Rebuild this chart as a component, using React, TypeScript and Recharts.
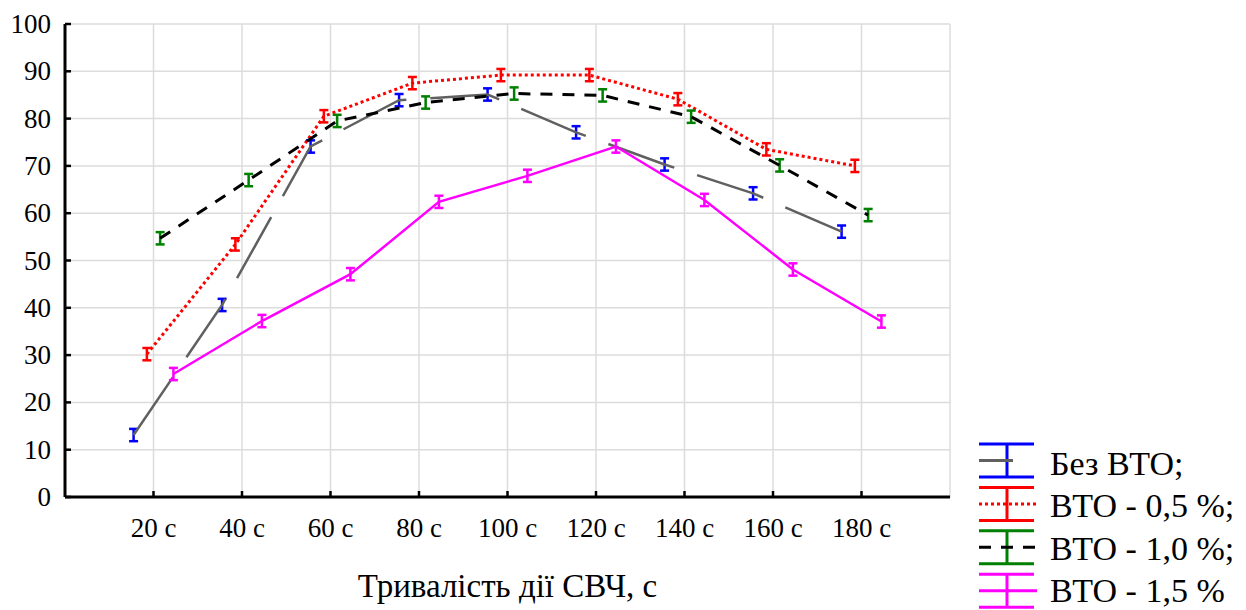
import React from 'react';
import {
  LineChart,
  Line,
  XAxis,
  YAxis,
  CartesianGrid,
  ErrorBar,
  Legend
} from 'recharts';

// Categories and tick labels
const categories = ['20 с', '40 с', '60 с', '80 с', '100 с', '120 с', '140 с', '160 с', '180 с'];
const yTicks = [0, 10, 20, 30, 40, 50, 60, 70, 80, 90, 100];

// Series values
const bezVto = [13.1, 40.6, 74.1, 83.9, 85.1, 77.1, 70.3, 64.2, 56.1];
const vto05 = [30.2, 53.4, 80.5, 87.5, 89.2, 89.2, 84.1, 73.5, 70.0];
const vto10 = [54.7, 67.0, 79.5, 83.4, 85.3, 84.9, 80.4, 70.1, 59.6];
const vto15 = [26.0, 37.2, 47.1, 62.4, 67.9, 74.1, 62.8, 48.1, 37.1];

// Error (± half-width) per point
const errBez = [1.3, 1.3, 1.3, 1.3, 1.3, 1.3, 1.3, 1.3, 1.3];
const err05 = [1.3, 1.3, 1.3, 1.3, 1.3, 1.3, 1.3, 1.3, 1.3];
const err10 = [1.3, 1.3, 1.3, 1.3, 1.3, 1.3, 1.3, 1.3, 1.3];
const err15 = [1.3, 1.3, 1.3, 1.3, 1.3, 1.3, 1.3, 1.3, 1.3];

const legendNames = ['Без ВТО;', 'ВТО - 0,5 %;', 'ВТО - 1,0 %;', 'ВТО - 1,5 %'];

const FONT = '"Liberation Serif", "Times New Roman", serif';
const X_GAP = 21;
const Y_GAP = 14;

// styles per series (same order as legend)
const STYLES = [
  { bar: '#0000ff', line: '#606060', dash: '70 24', legendDash: undefined, width: 2.5, shift: -0.225, short: true },
  { bar: '#ff0000', line: '#ff0000', dash: '3 3', legendDash: '3 3', width: 3, shift: -0.075, short: false },
  { bar: '#008000', line: '#000000', dash: '12 10', legendDash: '12 10', width: 3, shift: 0.075, short: false },
  { bar: '#ff00ff', line: '#ff00ff', dash: undefined, legendDash: undefined, width: 2.5, shift: 0.225, short: false }
];

const toPoints = (vals: number[], errs: number[], shift: number) =>
  vals.map((y, i) => ({ x: i + 1 + shift, y, err: errs[i] }));

const seriesData = [
  toPoints(bezVto, errBez, STYLES[0].shift),
  toPoints(vto05, err05, STYLES[1].shift),
  toPoints(vto10, err10, STYLES[2].shift),
  toPoints(vto15, err15, STYLES[3].shift)
];

const BottomTick = (props: any) => {
  const { x, y, payload } = props;
  return (
    <g>
      <line x1={x} y1={y - X_GAP} x2={x} y2={y - X_GAP - 6} stroke="#000" strokeWidth={2.5} />
      <text x={x} y={y} dy={19} textAnchor="middle" fontSize={27} fontFamily={FONT} fill="#000">
        {categories[payload.value - 1]}
      </text>
    </g>
  );
};

const LeftTick = (props: any) => {
  const { x, y, payload } = props;
  return (
    <g>
      <line x1={x + Y_GAP} y1={y} x2={x + Y_GAP + 6} y2={y} stroke="#000" strokeWidth={2.5} />
      <text x={x} y={y} dy={9} textAnchor="end" fontSize={27} fontFamily={FONT} fill="#000">
        {payload.value}
      </text>
    </g>
  );
};

const TopTick = (props: any) => {
  const { x, y } = props;
  return <line x1={x} y1={y} x2={x} y2={y + 6} stroke="#000" strokeWidth={2.5} />;
};

const RightTick = (props: any) => {
  const { x, y } = props;
  return <line x1={x} y1={y} x2={x - 6} y2={y} stroke="#000" strokeWidth={2.5} />;
};

const LegendBox = () => (
  <svg width={271} height={170}>
    {STYLES.map((s, i) => {
      const top = 4 + i * 43.4;
      return (
        <g key={i}>
          <line x1={4} x2={59} y1={top} y2={top} stroke={s.bar} strokeWidth={3} />
          <line x1={4} x2={59} y1={top + 33} y2={top + 33} stroke={s.bar} strokeWidth={3} />
          <line x1={32} x2={32} y1={top} y2={top + 33} stroke={s.bar} strokeWidth={3} />
          <line
            x1={4}
            x2={s.short ? 38 : 62}
            y1={top + 16.5}
            y2={top + 16.5}
            stroke={s.line}
            strokeWidth={3}
            strokeDasharray={s.legendDash}
          />
          <text x={75} y={35 + i * 42.3} fontSize={34} fontFamily={FONT} fill="#000">
            {legendNames[i]}
          </text>
        </g>
      );
    })}
  </svg>
);

export default function App() {
  return (
    <div style={{ position: 'absolute', left: 0, top: 0, width: 1246, height: 610, background: '#fff', fontFamily: FONT }}>
      <LineChart width={1246} height={610} margin={{ top: 24, right: 296, left: 0, bottom: 0 }}>
        <CartesianGrid stroke="#dcdcdc" strokeWidth={1.5} />
        <XAxis
          dataKey="x"
          type="number"
          domain={[0, 10]}
          ticks={[1, 2, 3, 4, 5, 6, 7, 8, 9]}
          height={113}
          tickSize={0}
          tickMargin={X_GAP}
          tick={<BottomTick />}
          axisLine={{ stroke: '#000', strokeWidth: 3 }}
          label={{
            value: 'Тривалість дії СВЧ, с',
            position: 'insideBottom',
            offset: 13,
            fontSize: 33,
            fontFamily: FONT,
            fill: '#000'
          }}
        />
        <XAxis
          xAxisId="top"
          orientation="top"
          dataKey="x"
          type="number"
          domain={[0, 10]}
          ticks={[1, 2, 3, 4, 5, 6, 7, 8, 9]}
          height={0}
          tickSize={0}
          tickMargin={0}
          tick={<TopTick />}
          axisLine={{ stroke: '#000', strokeWidth: 3 }}
        />
        <YAxis
          type="number"
          domain={[0, 100]}
          ticks={yTicks}
          width={65}
          tickSize={0}
          tickMargin={Y_GAP}
          tick={<LeftTick />}
          allowDataOverflow
          axisLine={{ stroke: '#000', strokeWidth: 3 }}
        />
        <YAxis
          yAxisId="right"
          orientation="right"
          type="number"
          domain={[0, 100]}
          ticks={yTicks}
          width={0}
          tickSize={0}
          tickMargin={0}
          tick={<RightTick />}
          allowDataOverflow
          axisLine={{ stroke: '#000', strokeWidth: 3 }}
        />
        {seriesData.map((data, i) => (
          <Line
            key={i}
            data={data}
            dataKey="y"
            type="linear"
            stroke={STYLES[i].line}
            strokeWidth={STYLES[i].width}
            strokeDasharray={STYLES[i].dash}
            dot={false}
            activeDot={false}
            isAnimationActive={false}
          >
            <ErrorBar dataKey="err" direction="y" width={4.5} stroke={STYLES[i].bar} strokeWidth={2.5} />
          </Line>
        ))}
        <Legend
          layout="vertical"
          align="center"
          verticalAlign="middle"
          content={<LegendBox />}
          wrapperStyle={{ left: 975, top: 440, bottom: 'auto', right: 'auto', width: 271, height: 170 }}
        />
      </LineChart>
    </div>
  );
}
